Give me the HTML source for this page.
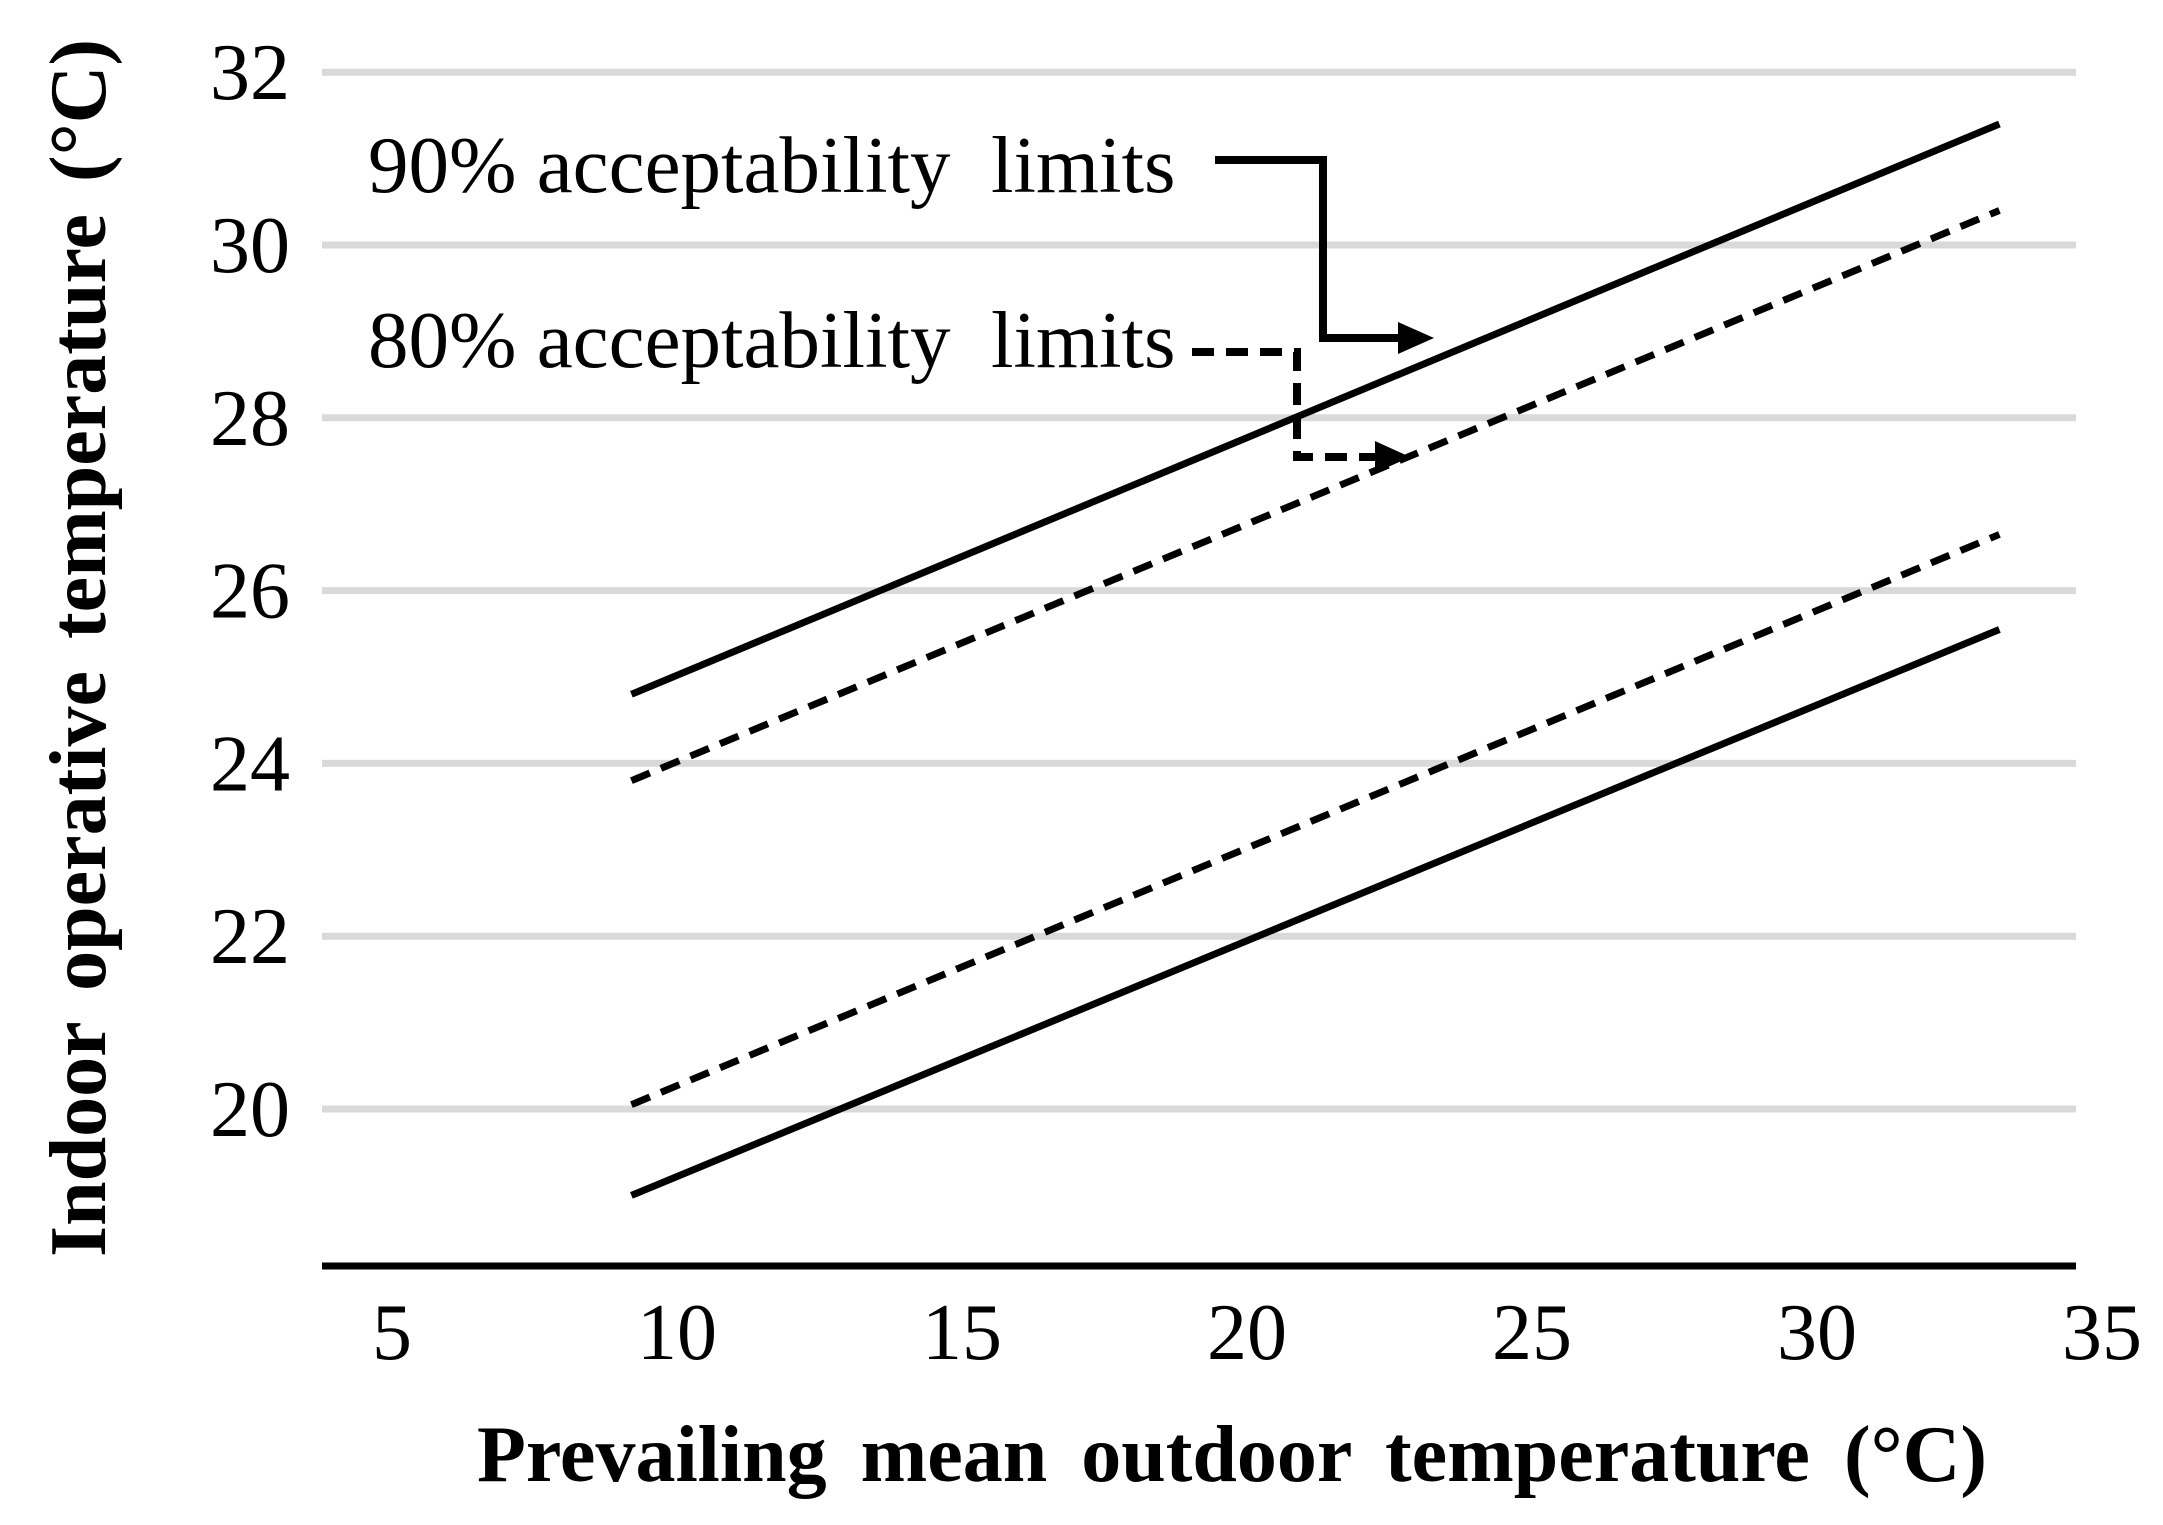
<!DOCTYPE html>
<html><head><meta charset="utf-8"><style>
html,body{margin:0;padding:0;background:#fff;}
svg{display:block;}
text{font-family:"Liberation Serif",serif;fill:#000;}
</style></head>
<body>
<svg id="chart" width="2163" height="1525" viewBox="0 0 2163 1525" xmlns="http://www.w3.org/2000/svg">
<g id="grid"></g>
<g id="ylabels"></g>
<g id="xlabels"></g>
<line x1="322" y1="1266" x2="2076" y2="1266" stroke="#000" stroke-width="7"/>
<g id="series"></g>
<text x="368" y="192" font-size="81" style="white-space:pre" xml:space="preserve">90% acceptability  limits</text>
<text x="368" y="367" font-size="81" style="white-space:pre" xml:space="preserve">80% acceptability  limits</text>
<polyline points="1215,160 1323,160 1323,338 1400,338" fill="none" stroke="#000" stroke-width="8"/>
<polygon points="1398,322 1434,338 1398,354" fill="#000"/>
<polyline points="1192,352 1297,352 1297,457 1380,457" fill="none" stroke="#000" stroke-width="8" stroke-dasharray="22,12"/>
<polygon points="1375,441 1410,457 1375,473" fill="#000"/>
<text transform="translate(105,648) rotate(-90)" text-anchor="middle" font-size="80" font-weight="bold" word-spacing="12">Indoor operative temperature (°C)</text>
<text x="1232" y="1481" text-anchor="middle" font-size="80" font-weight="bold" word-spacing="14">Prevailing mean outdoor temperature (°C)</text>
</svg>
<script>
const yTicks = [20, 22, 24, 26, 28, 30, 32];
const xTicks = [5, 10, 15, 20, 25, 30, 35];
const seriesNames = ["upper-90", "upper-80", "lower-80", "lower-90"];
const seriesX = [9.2, 33.2];
const upper90 = [24.8, 31.4];
const upper80 = [23.8, 30.4];
const lower80 = [20.05, 26.65];
const lower90 = [19.0, 25.55];

const NS = "http://www.w3.org/2000/svg";
function xs(v){ return 392 + (v - 5) * 57; }
function ys(v){ return 1109 - (v - 20) * 86.4; }

const grid = document.getElementById('grid');
const yl = document.getElementById('ylabels');
yTicks.forEach(t => {
  const l = document.createElementNS(NS, 'line');
  
  
  l.setAttribute('x1', 322); l.setAttribute('x2', 2076);
  l.setAttribute('y1', ys(t)); l.setAttribute('y2', ys(t));
  l.setAttribute('stroke', '#d9d9d9'); l.setAttribute('stroke-width', 7);
  grid.appendChild(l);
  const tx = document.createElementNS(NS, 'text');
  
  
  tx.setAttribute('x', 290); tx.setAttribute('y', ys(t) + 27);
  tx.setAttribute('text-anchor', 'end'); tx.setAttribute('font-size', 80);
  tx.textContent = t;
  yl.appendChild(tx);
});
const xl = document.getElementById('xlabels');
xTicks.forEach(t => {
  const tx = document.createElementNS(NS, 'text');
  
  
  tx.setAttribute('x', xs(t)); tx.setAttribute('y', 1359);
  tx.setAttribute('text-anchor', 'middle'); tx.setAttribute('font-size', 80);
  tx.textContent = t;
  xl.appendChild(tx);
});
const sg = document.getElementById('series');
[upper90, upper80, lower80, lower90].forEach((vals, i) => {
  const l = document.createElementNS(NS, 'line');
  
  
  l.setAttribute('x1', xs(seriesX[0])); l.setAttribute('y1', ys(vals[0]));
  l.setAttribute('x2', xs(seriesX[1])); l.setAttribute('y2', ys(vals[1]));
  l.setAttribute('stroke', '#000'); l.setAttribute('stroke-width', 7);
  if (seriesNames[i].indexOf('80') >= 0) l.setAttribute('stroke-dasharray', '20,12');
  sg.appendChild(l);
});
</script>
</body></html>
